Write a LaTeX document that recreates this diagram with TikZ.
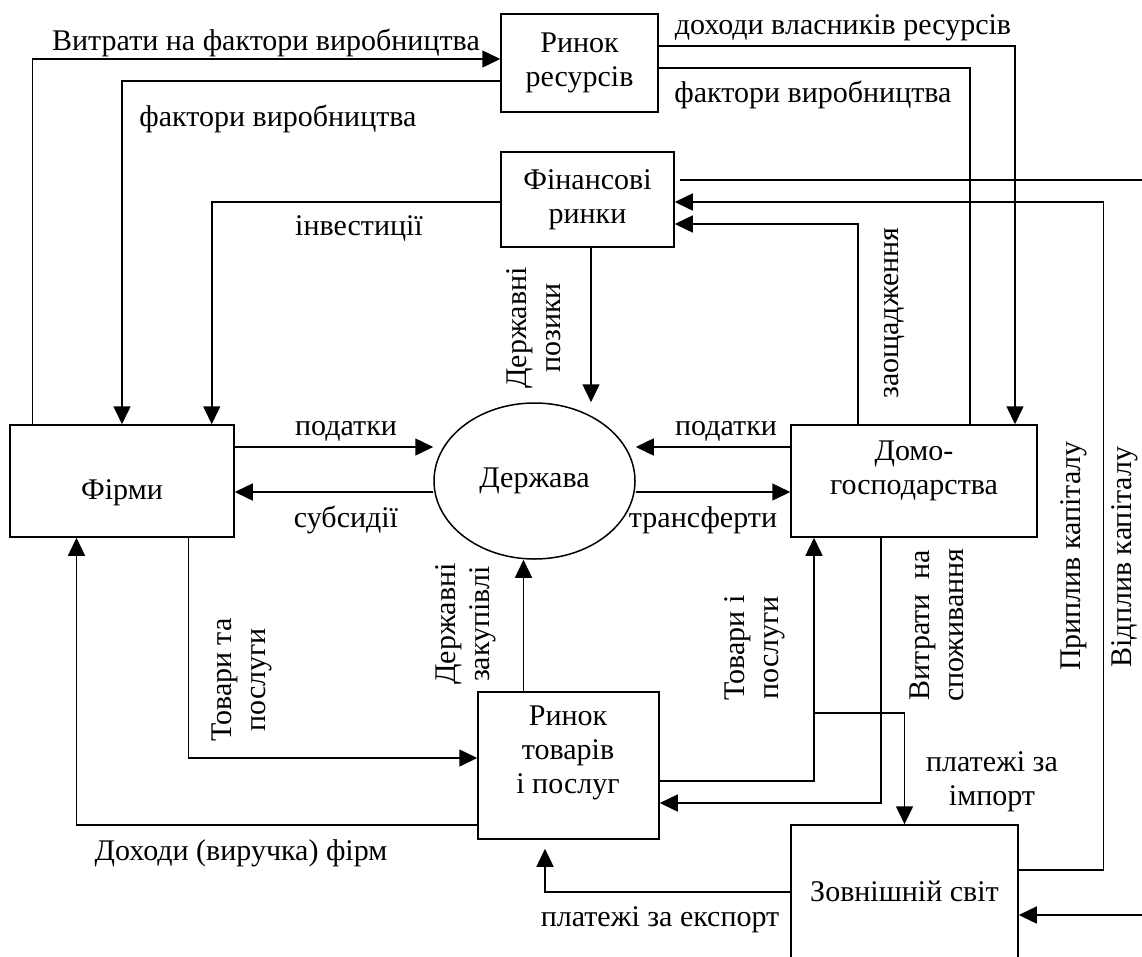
\documentclass[tikz,border=0pt]{standalone}
\usepackage{fontspec}
\setmainfont{Liberation Serif}
\usetikzlibrary{arrows.meta,shapes.geometric}
\begin{document}
\begin{tikzpicture}[x=1pt,y=-1pt,
  font=\fontsize{30}{34}\selectfont,
  blok/.style={draw=black, line width=1.5pt, inner sep=0pt, align=center},
  arr/.style={line width=1.5pt, -{Triangle[length=18pt,width=17pt]}},
  lin/.style={line width=1.5pt},
  napys/.style={inner sep=0pt, align=center}]
\useasboundingbox (0,0) rectangle (1142,956);
\coordinate (kr) at (1142,0);
\node [blok, minimum width=157, minimum height=98] (res) at (579.5,63) {Ринок\\ресурсів};
\node [blok, minimum width=173, minimum height=95] (fin) at (587.5,199.5) {Фінансові\\ринки};
\node [blok, minimum width=224, minimum height=112] (fir) at (122,481) {};
\node [napys] (firt) at (122,493) {Фірми};
\node [blok, ellipse, minimum width=201, minimum height=156] (der) at (534.5,481) {Держава};
\node [blok, minimum width=246, minimum height=112] (dom) at (914,481) {};
\node [napys] (domt) at (914,471) {Домо-\\господарства};
\node [blok, minimum width=181, minimum height=147] (tov) at (568.5,765.5) {};
\node [napys] (tovt) at (568,753) {Ринок\\товарів\\і послуг};
\node [blok, minimum width=227, minimum height=133] (zov) at (904.5,891.5) {Зовнішній світ};
\draw [arr] ([xshift=23]fir.north west) |- ([yshift=4]res.west);
\draw [arr] ([yshift=-18]res.west) -| (fir.north);
\draw [arr] ([yshift=-2.5]fin.west) -| ([xshift=-23]fir.north east);
\draw [arr] ([xshift=3.5]fin.south) -- ([xshift=3.5]fin.south |- der.north);
\draw [arr] ([yshift=34]fir.east) -- ([yshift=34]fir.east -| der.west);
\draw [arr] ([yshift=-11]fir.east -| der.west) -- ([yshift=-11]fir.east);
\draw [arr] ([yshift=34]dom.west) -- ([yshift=34]dom.west -| der.east);
\draw [arr] ([yshift=-11]dom.west -| der.east) -- ([yshift=-11]dom.west);
\draw [arr] ([xshift=-56]dom.north) |- ([yshift=-24.5]fin.east);
\draw [arr] ([yshift=17]res.east) -| ([xshift=101]dom.north);
\draw [lin] ([xshift=56]dom.north) |- ([yshift=-5]res.east);
\draw [lin] ([xshift=5,yshift=19.5]fin.east) -- ([yshift=19.5]fin.east -| kr);
\coordinate (kap) at (1103.5,202);
\draw [arr] ([yshift=21.5]zov.east) -| (kap) -- (kap -| fin.east);
\draw [arr] ([yshift=-23.5]zov.east -| kr) -- ([yshift=-23.5]zov.east);
\draw [arr] ([yshift=-15.5]tov.east) -| ([xshift=-100]dom.south);
\coordinate (imp) at (814,713);
\draw [arr] (imp) -| (zov.north);
\draw [arr] ([xshift=-33]dom.south) |- ([yshift=-37.5]tov.east);
\draw [arr] ([xshift=-45]tov.north) -- ([xshift=-45]tov.north |- der.south);
\draw [arr] ([xshift=66.7]fir.south) |- ([yshift=7.5]tov.west);
\draw [arr] ([yshift=-59.5]tov.west) -| ([xshift=-45.5]fir.south);
\draw [arr, shorten >=9] ([yshift=-0.5]zov.west) -| ([xshift=-23.5]tov.south);
\node [napys] (l1) at (266,43) {Витрати на фактори виробництва};
\node [napys] (l2) at (278,119) {фактори виробництва};
\node [napys] (l3) at (359,228) {інвестиції};
\node [napys] (l4) at (843,28) {доходи власників ресурсів};
\node [napys] (l5) at (813,95) {фактори виробництва};
\node [napys] (l6) at (346,431) {податки};
\node [napys] (l7) at (346,520) {субсидії};
\node [napys] (l8) at (726,431) {податки};
\node [napys] (l9) at (703,520) {трансферти};
\node [napys, rotate=90] (l10) at (534,328) {Державні\\позики};
\node [napys, rotate=90] (l11) at (466,624) {Державні\\закупівлі};
\node [napys, rotate=90] (l12) at (242,680) {Товари та\\послуги};
\node [napys, rotate=90] (l13) at (755,648) {Товари і\\послуги};
\node [napys, rotate=90] (l14) at (937,625) {Витрати\ \ на\\споживання};
\node [napys, rotate=90] (l15) at (895,313) {заощадження};
\node [napys, rotate=90] (l16) at (1074,556) {Приплив капіталу};
\node [napys, rotate=90] (l17) at (1125,557) {Відплив капіталу};
\node [napys] (l18) at (992,782) {платежі за\\імпорт};
\node [napys] (l19) at (660,920) {платежі за експорт};
\node [napys] (l20) at (241,853) {Доходи (виручка) фірм};
\end{tikzpicture}
\end{document}
